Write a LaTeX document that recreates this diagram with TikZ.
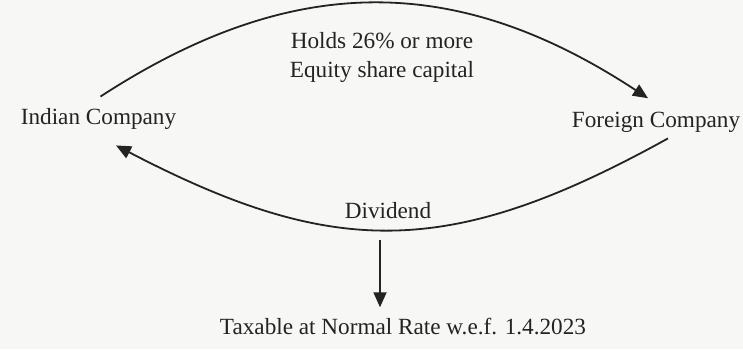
\documentclass[tikz,border=0pt]{standalone}
\usepackage{fontspec}
\setmainfont{Liberation Serif}
\usetikzlibrary{calc,arrows.meta}
\definecolor{InkGray}{RGB}{35,35,35}
\definecolor{PaperWhite}{RGB}{247,247,245}
\tikzset{
	lbl/.style={inner sep=1pt,text=InkGray,font=\fontsize{11.6}{14.5}\selectfont,anchor=base},
	flow/.style={draw=InkGray,line width=0.9pt,-{Triangle[length=7.5pt,width=6.5pt]}},
}

\begin{document}
\begin{tikzpicture}[x=0.5pt,y=-0.5pt]
	\fill[PaperWhite] (0,0) rectangle (743,349);
	\useasboundingbox (0,0) rectangle (743,349);
	\node[lbl] (ind) at (98.5,124) {Indian Company};
	\node[lbl] (frn) at (656,127) {Foreign Company};
	\node[lbl] (hold) at (382,48) {Holds 26\% or more};
	\node[lbl] (eq) at (382,77) {Equity share capital};
	\node[lbl] (div) at (388,218) {Dividend};
	\node[lbl] (tax) at (403,334) {Taxable at Normal Rate w.e.f. 1.4.2023};
	\coordinate (split) at (380,240);
	\draw[flow] ($(ind.north)+(2,-9)$) .. controls (292,-28) and (456,-28) .. ($(frn.north)+(-8,-11)$);
	\draw[flow] ($(frn.south)+(12,4)$) .. controls (450,259) and (334,259) .. ($(ind.south)+(17.5,14)$);
	\draw[flow,shorten >=4pt] (split) -- (split |- tax.north);
\end{tikzpicture}
\end{document}
